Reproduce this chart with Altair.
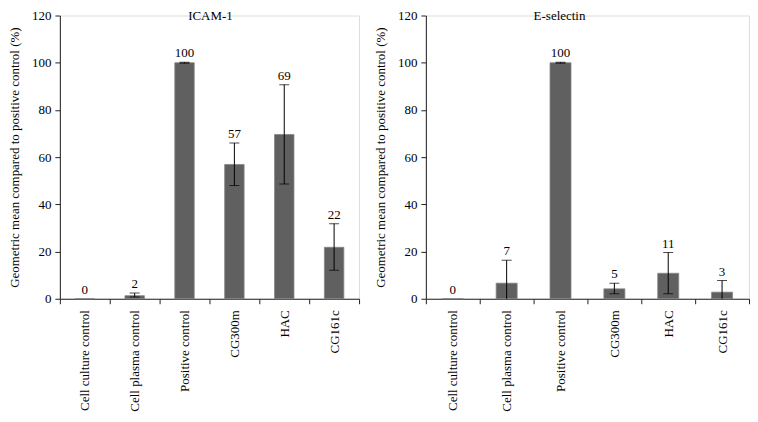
import altair as alt
import pandas as pd

categories = ["Cell culture control", "Cell plasma control", "Positive control",
              "CG300m", "HAC", "CG161c"]

icam_values = [0, 1.3, 100, 56.9, 69.6, 21.8]
icam_lo = [0, 0.7, 99.8, 48.0, 48.6, 12.1]
icam_hi = [0, 2.4, 100.2, 66.0, 90.7, 31.8]
icam_labels = ["0", "2", "100", "57", "69", "22"]

esel_values = [0, 6.6, 100, 4.2, 10.8, 2.8]
esel_lo = [0, -3.1, 99.8, 2.1, 2.1, -2.1]
esel_hi = [0, 16.3, 100.2, 6.6, 19.6, 7.7]
esel_labels = ["0", "7", "100", "5", "11", "3"]

y_ticks = [0, 20, 40, 60, 80, 100, 120]

FONT = "Times New Roman, Liberation Serif, serif"
BAR = "#606060"
PLOT_H = 284


def panel(title, values, lo, hi, labels, width, title_dx):
    df = pd.DataFrame({
        "cat": categories, "value": values, "lo": lo, "hi": hi, "label": labels,
    })
    base = alt.Chart(df)
    x = alt.X("cat:N", sort=categories, title=None,
              scale=alt.Scale(paddingInner=0, paddingOuter=0),
              axis=alt.Axis(labelAngle=-90, labelPadding=6, tickSize=5,
                            tickBand="extent", labelFont=FONT, labelFontSize=13,
                            labelColor="black", domainColor="#222", tickColor="#222",
                            labelLimit=200))
    y = alt.Y("value:Q", title="Geometric mean compared to positive control (%)",
              scale=alt.Scale(domain=[0, 120], nice=False),
              axis=alt.Axis(values=y_ticks, grid=False, tickSize=5, labelPadding=4,
                            titlePadding=10, labelFont=FONT, labelFontSize=13,
                            titleFont=FONT, titleFontSize=13, titleFontWeight="normal",
                            labelColor="black", titleColor="black",
                            domainColor="#222", tickColor="#222"))
    bars = base.mark_bar(color=BAR, stroke="#858585", strokeWidth=0.8,
                         width=alt.RelativeBandSize(0.39)).encode(x=x, y=y)
    err = base.transform_filter("datum.hi > datum.lo")
    rule = err.mark_rule(color="black", strokeWidth=1, clip=True).encode(
        x=alt.X("cat:N", sort=categories), y="lo:Q", y2="hi:Q")
    cap_hi = err.mark_tick(color="black", thickness=1, size=10, clip=True).encode(
        x=alt.X("cat:N", sort=categories), y="hi:Q")
    cap_lo = err.mark_tick(color="black", thickness=1, size=10, clip=True).encode(
        x=alt.X("cat:N", sort=categories), y="lo:Q")
    text = base.transform_calculate(top="max(datum.value, datum.hi)").mark_text(
        font=FONT, fontSize=13, color="black", baseline="alphabetic", dy=-5
    ).encode(x=alt.X("cat:N", sort=categories), y="top:Q", text="label:N")
    ttl = alt.Chart(pd.DataFrame({"t": [title]})).mark_text(
        font=FONT, fontSize=13, color="black", baseline="middle", align="center"
    ).encode(x=alt.value(width / 2 + title_dx), y=alt.value(0), text="t:N")
    return alt.layer(bars, rule, cap_hi, cap_lo, text, ttl).properties(
        width=width, height=PLOT_H,
    )


left = panel("ICAM-1", icam_values, icam_lo, icam_hi, icam_labels, 300, 1)
right = panel("E-selectin", esel_values, esel_lo, esel_hi, esel_labels, 324, -28)

chart = alt.hconcat(left, right, spacing=14).properties(
    padding={"left": 0, "top": 0, "right": 0, "bottom": 0}
).resolve_scale(y="independent").configure_view(stroke=None).configure(
    background="white")

chart.save("out.html", embed_options={"renderer": "svg", "actions": False})
